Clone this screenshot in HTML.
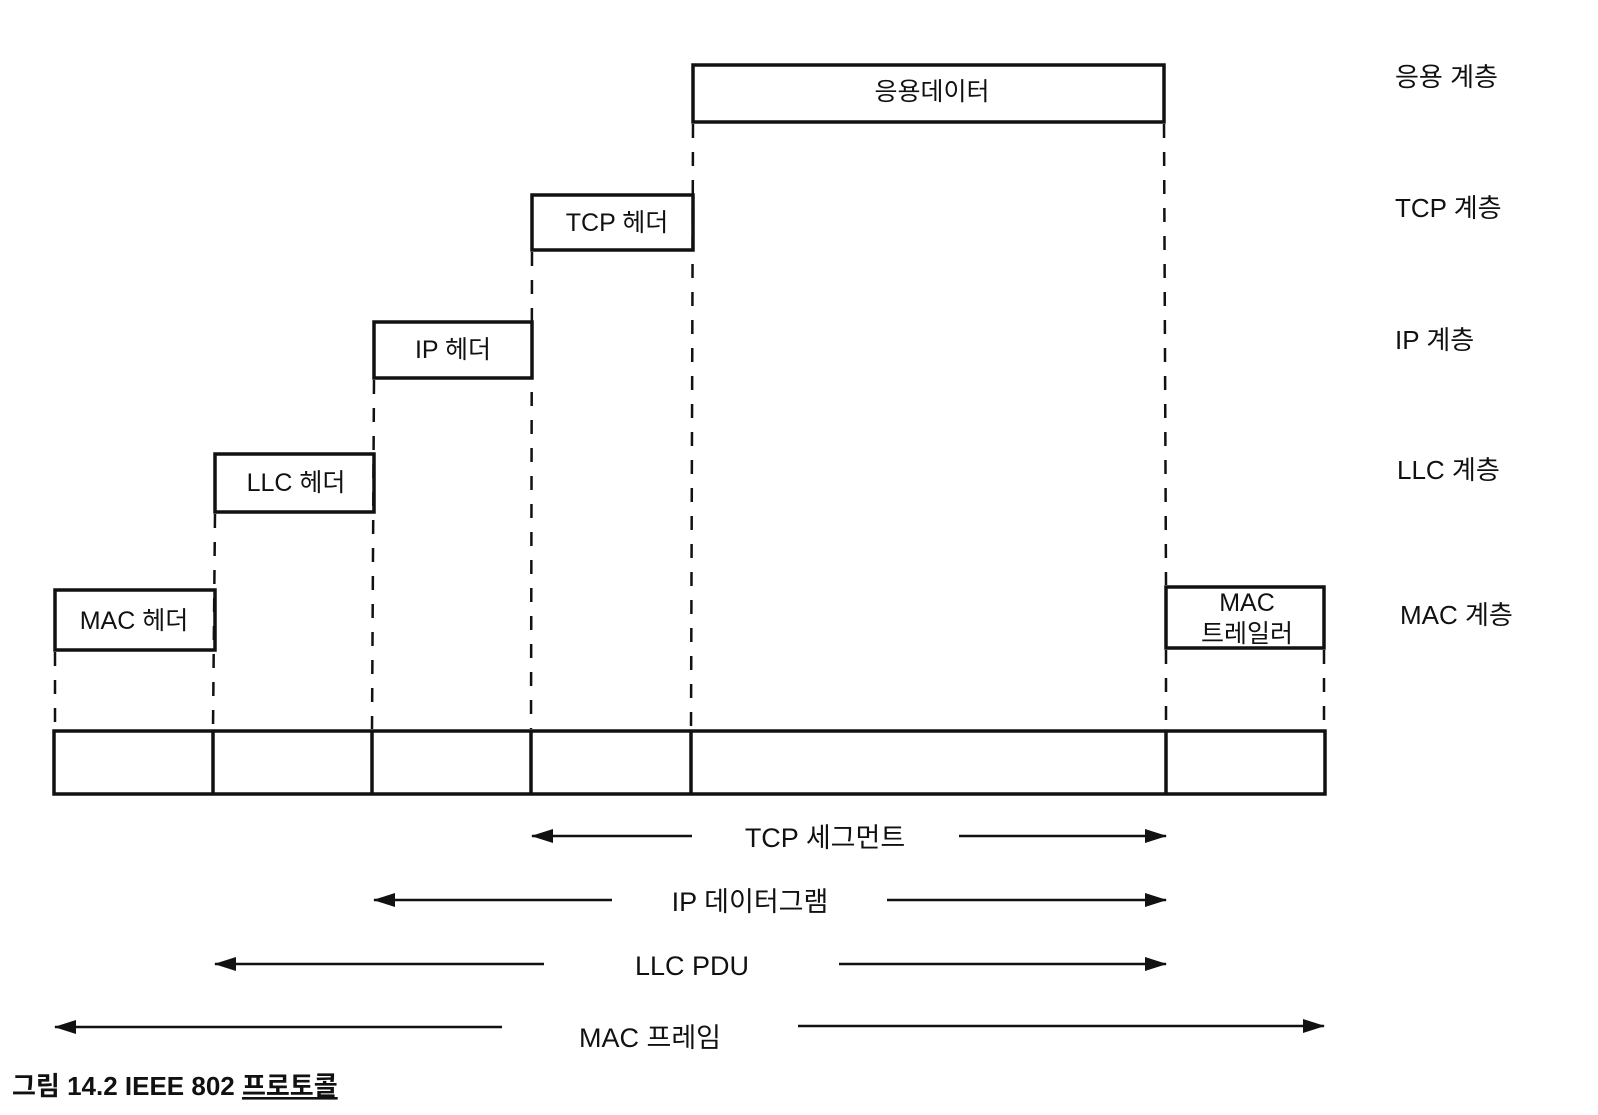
<!DOCTYPE html>
<html><head><meta charset="utf-8"><style>
html,body{margin:0;padding:0;background:#fff;}
svg{display:block;}
text{font-family:"Liberation Sans","Noto Sans CJK KR",sans-serif;fill:#111;}
</style></head><body>
<svg width="1598" height="1115" viewBox="0 0 1598 1115" xmlns="http://www.w3.org/2000/svg">
<defs>
<marker id="ah" markerWidth="22" markerHeight="14" refX="21" refY="7" orient="auto" markerUnits="userSpaceOnUse">
<path d="M0,0 L22,7 L0,14 Z" fill="#111"/></marker>
</defs>
<g fill="none" stroke="#111" stroke-width="3.5">
<rect x="693" y="65" width="471" height="57"/>
<rect x="532" y="195" width="161" height="55"/>
<rect x="374" y="322" width="158" height="56"/>
<rect x="215" y="454" width="159" height="58"/>
<rect x="55" y="590" width="160" height="60"/>
<rect x="1166" y="587" width="158" height="61"/>
<rect x="54" y="731" width="1271" height="63"/>
<line x1="213" y1="731" x2="213" y2="794"/>
<line x1="372" y1="731" x2="372" y2="794"/>
<line x1="531" y1="731" x2="531" y2="794"/>
<line x1="691" y1="731" x2="691" y2="794"/>
<line x1="1166" y1="731" x2="1166" y2="794"/>
</g>
<g fill="none" stroke="#111" stroke-width="2.5" stroke-dasharray="14,14">
<line x1="693" y1="124" x2="691" y2="729"/>
<line x1="1164" y1="124" x2="1166" y2="585"/>
<line x1="532" y1="252" x2="531" y2="729"/>
<line x1="374" y1="380" x2="372" y2="729"/>
<line x1="215" y1="514" x2="213" y2="729"/>
<line x1="55" y1="652" x2="55" y2="729"/>
<line x1="1166" y1="650" x2="1166" y2="729"/>
<line x1="1324" y1="650" x2="1324" y2="729"/>
</g>
<g font-size="25" text-anchor="middle">
<text x="932" y="100">응용데이터</text>
<text x="617" y="231">TCP 헤더</text>
<text x="453" y="358">IP 헤더</text>
<text x="296" y="491">LLC 헤더</text>
<text x="134" y="629">MAC 헤더</text>
<text x="1247" y="611">MAC</text>
<text x="1247" y="642">트레일러</text>
</g>
<g font-size="26">
<text x="1395" y="86">응용 계층</text>
<text x="1395" y="217">TCP 계층</text>
<text x="1395" y="349">IP 계층</text>
<text x="1397" y="479">LLC 계층</text>
<text x="1400" y="624">MAC 계층</text>
</g>
<g stroke="#111" stroke-width="2.5" fill="none">
<line x1="692" y1="836" x2="532" y2="836" marker-end="url(#ah)"/>
<line x1="959" y1="836" x2="1166" y2="836" marker-end="url(#ah)"/>
<line x1="612" y1="900" x2="374" y2="900" marker-end="url(#ah)"/>
<line x1="887" y1="900" x2="1166" y2="900" marker-end="url(#ah)"/>
<line x1="544" y1="964" x2="215" y2="964" marker-end="url(#ah)"/>
<line x1="839" y1="964" x2="1166" y2="964" marker-end="url(#ah)"/>
<line x1="502" y1="1027" x2="55" y2="1027" marker-end="url(#ah)"/>
<line x1="798" y1="1026" x2="1324" y2="1026" marker-end="url(#ah)"/>
</g>
<g font-size="27" text-anchor="middle">
<text x="825" y="847">TCP 세그먼트</text>
<text x="750" y="911">IP 데이터그램</text>
<text x="692" y="975">LLC PDU</text>
<text x="650" y="1047">MAC 프레임</text>
</g>
<text x="12" y="1095" font-size="26" font-weight="bold">그림 14.2  IEEE 802 <tspan text-decoration="underline">프로토콜</tspan></text>
</svg>
</body></html>
